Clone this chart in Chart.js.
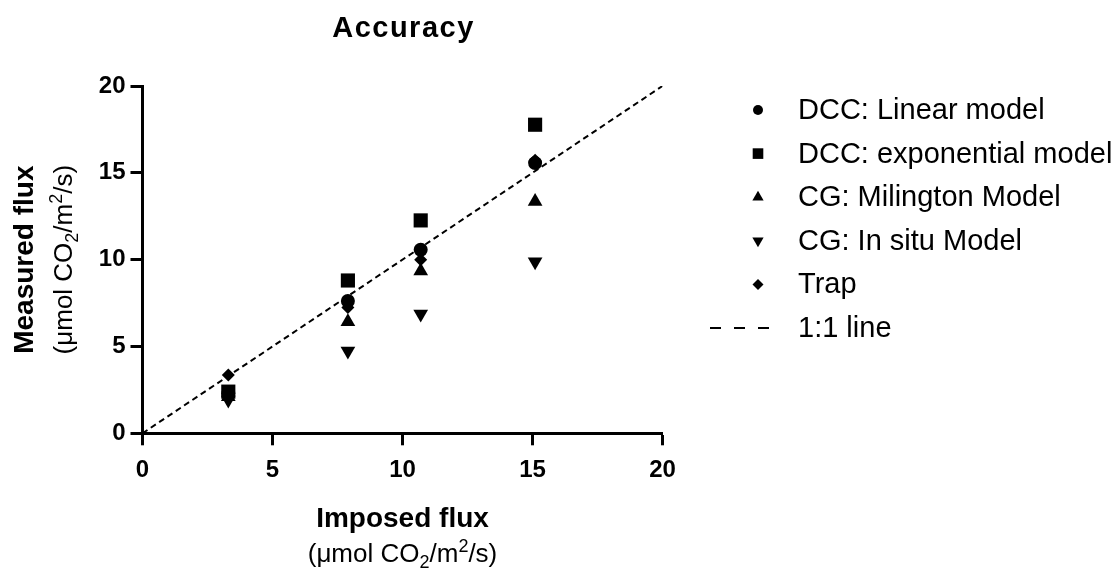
<!DOCTYPE html>
<html>
<head>
<meta charset="utf-8">
<title>Accuracy</title>
<script src="https://cdn.jsdelivr.net/npm/chart.js@4/dist/chart.umd.min.js"></script>
<style>
  html, body { margin: 0; padding: 0; background: #fff; }
</style>
</head>
<body>
<canvas id="accuracyChart" width="1113" height="571"></canvas>
<script>
// Accuracy of flux methods vs imposed flux

const FONT = '"Liberation Sans", Arial, Helvetica, sans-serif';

// Data
const imposedFlux = [3.3, 7.9, 10.7, 15.1];
const dccLinear = [2.3, 7.62, 10.57, 15.56];
const dccExponential = [2.4, 8.8, 12.26, 17.77];
const cgMilington = [2.1, 6.42, 9.35, 13.35];
const cgInSitu = [1.92, 4.74, 6.87, 9.88];
const trap = [3.36, 7.25, 10.0, 15.73];
const oneToOne = [0, 20];
const axisTicks = [0, 5, 10, 15, 20];
const seriesLabels = [
    'DCC: Linear model',
    'DCC: exponential model',
    'CG: Milington Model',
    'CG: In situ Model',
    'Trap',
    '1:1 line'
];

// Marker sizes used in the side legend
const legendMarkerRadius = [5, 7.5, 6.5, 6.5, 5.5];

function toPoints(values) {
    return imposedFlux.map((x, i) => ({ x: x, y: values[i] }));
}

function markerDataset(label, values, style, radius, rotation) {
    return {
        label: label,
        data: toPoints(values),
        pointStyle: style,
        pointRadius: radius,
        pointHoverRadius: radius,
        pointRotation: rotation || 0,
        backgroundColor: '#000',
        borderColor: '#000',
        borderWidth: 0,
        clip: false
    };
}

// Draws text with sub/superscript pieces, centred on cx
function drawRich(ctx, parts, cx, baseline, size, weight) {
    const scriptSize = Math.round(size * 0.68);
    let total = 0;
    parts.forEach(p => {
        ctx.font = `${weight} ${p.s ? scriptSize : size}px ${FONT}`;
        p.w = ctx.measureText(p.t).width;
        total += p.w;
    });
    let x = cx - total / 2;
    ctx.textAlign = 'left';
    ctx.textBaseline = 'alphabetic';
    parts.forEach(p => {
        ctx.font = `${weight} ${p.s ? scriptSize : size}px ${FONT}`;
        let dy = 0;
        if (p.s === 'sub') dy = size * 0.22;
        if (p.s === 'sup') dy = -size * 0.38;
        ctx.fillText(p.t, x, baseline + dy);
        x += p.w;
    });
}

function unitParts() {
    return [
        { t: '(\u03bcmol CO' }, { t: '2', s: 'sub' }, { t: '/m' }, { t: '2', s: 'sup' }, { t: '/s)' }
    ];
}

// Title and axis titles
const titlesPlugin = {
    id: 'titles',
    afterDraw(chart) {
        const ctx = chart.ctx;
        const area = chart.chartArea;
        const cx = (area.left + area.right) / 2;
        const cy = (area.top + area.bottom) / 2;
        ctx.save();
        ctx.fillStyle = '#000';

        // main title
        ctx.font = `bold 29px ${FONT}`;
        ctx.letterSpacing = '1.5px';
        ctx.textAlign = 'center';
        ctx.textBaseline = 'alphabetic';
        ctx.fillText('Accuracy', cx + 1, 37);
        ctx.letterSpacing = '0px';

        // x axis title
        drawRich(ctx, [{ t: 'Imposed flux' }], cx, 527, 28, 'bold');
        drawRich(ctx, unitParts(), cx, 562, 26, 'normal');

        // y axis title
        ctx.save();
        ctx.translate(33, cy);
        ctx.rotate(-Math.PI / 2);
        drawRich(ctx, [{ t: 'Measured flux' }], 0, 0, 28, 'bold');
        ctx.restore();
        ctx.save();
        ctx.translate(72, cy);
        ctx.rotate(-Math.PI / 2);
        drawRich(ctx, unitParts(), 0, 0, 26, 'normal');
        ctx.restore();

        ctx.restore();
    }
};

// Legend on the right, built from the datasets
const sideLegendPlugin = {
    id: 'sideLegend',
    afterDraw(chart) {
        const ctx = chart.ctx;
        const top = 110;
        const step = 43.6;
        ctx.save();
        ctx.fillStyle = '#000';
        ctx.strokeStyle = '#000';
        chart.data.datasets.forEach((ds, i) => {
            const y = top + i * step;
            if (ds.type === 'line') {
                ctx.lineWidth = 2;
                ctx.setLineDash([11, 13]);
                ctx.beginPath();
                ctx.moveTo(710, y);
                ctx.lineTo(770, y);
                ctx.stroke();
                ctx.setLineDash([]);
            } else {
                Chart.helpers.drawPoint(ctx, {
                    pointStyle: ds.pointStyle,
                    radius: legendMarkerRadius[i],
                    rotation: ds.pointRotation || 0,
                    borderWidth: 0
                }, 758, y);
            }
            ctx.font = `29px ${FONT}`;
            ctx.textAlign = 'left';
            ctx.textBaseline = 'middle';
            ctx.fillText(ds.label, 798, y + 1);
        });
        ctx.restore();
    }
};

const tickFont = { family: FONT, size: 24, weight: 'bold' };

new Chart(document.getElementById('accuracyChart'), {
    type: 'scatter',
    data: {
        datasets: [
            markerDataset(seriesLabels[0], dccLinear, 'circle', 7),
            markerDataset(seriesLabels[1], dccExponential, 'rect', 10),
            markerDataset(seriesLabels[2], cgMilington, 'triangle', 8.5),
            markerDataset(seriesLabels[3], cgInSitu, 'triangle', 8.5, 180),
            markerDataset(seriesLabels[4], trap, 'rectRot', 6.5),
            {
                type: 'line',
                label: seriesLabels[5],
                data: oneToOne.map(v => ({ x: v, y: v })),
                borderColor: '#000',
                borderWidth: 2,
                borderDash: [6, 4],
                pointRadius: 0,
                fill: false,
                showLine: true
            }
        ]
    },
    options: {
        responsive: false,
        animation: false,
        layout: {
            padding: { left: 0, right: 450.5, top: 86, bottom: 0 }
        },
        plugins: {
            legend: { display: false },
            title: { display: false },
            tooltip: { enabled: false }
        },
        scales: {
            x: {
                type: 'linear',
                min: 0,
                max: 20,
                afterBuildTicks: s => { s.ticks = axisTicks.map(v => ({ value: v })); },
                afterFit: s => { s.height = 137.7; },
                ticks: { color: '#000', font: tickFont, padding: 11 },
                grid: { drawOnChartArea: false, tickLength: 12, tickWidth: 3, tickColor: '#000' },
                border: { display: true, color: '#000', width: 3 }
            },
            y: {
                type: 'linear',
                min: 0,
                max: 20,
                afterBuildTicks: s => { s.ticks = axisTicks.map(v => ({ value: v })); },
                afterFit: s => { s.width = 142.5; },
                ticks: { color: '#000', font: tickFont, padding: 5 },
                grid: { drawOnChartArea: false, tickLength: 12, tickWidth: 3, tickColor: '#000' },
                border: { display: true, color: '#000', width: 3 }
            }
        }
    },
    plugins: [titlesPlugin, sideLegendPlugin]
});
</script>
</body>
</html>
